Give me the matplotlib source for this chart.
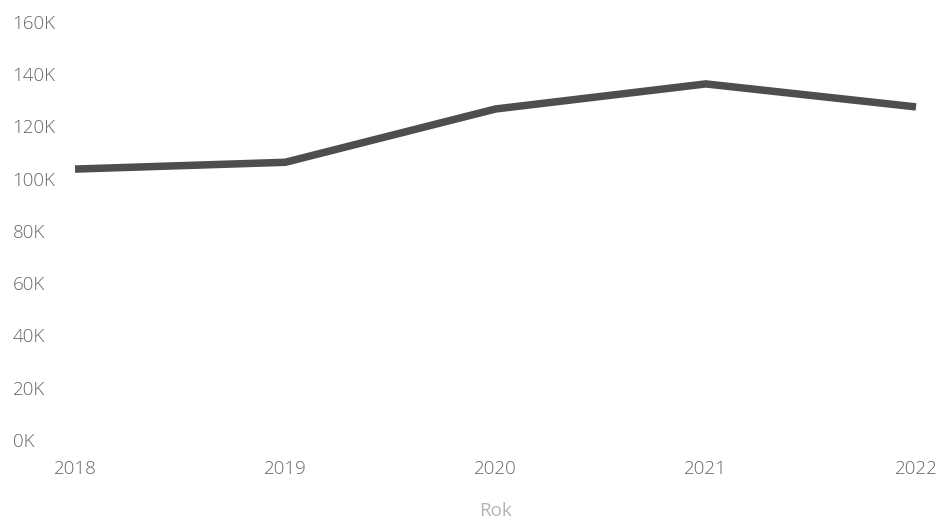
import matplotlib.pyplot as plt

years = [2018, 2019, 2020, 2021, 2022]
values = [103700, 106300, 126700, 136300, 127500]
ytick_vals = [0, 20000, 40000, 60000, 80000, 100000, 120000, 140000, 160000]
ytick_labels = ['0K', '20K', '40K', '60K', '80K', '100K', '120K', '140K', '160K']

plt.rcParams['font.family'] = ['Open Sans', 'DejaVu Sans']
plt.rcParams['font.weight'] = 'light'

fig = plt.figure(figsize=(9.41, 5.2), dpi=100)
ax = fig.add_axes([75 / 941, 80 / 520, (916 - 75) / 941, (440 - 22) / 520])

ax.plot(years, values, color='#4e4e4e', linewidth=5.4, solid_capstyle='butt',
        solid_joinstyle='miter', clip_on=False)

ax.set_xlim(2018, 2022)
ax.set_ylim(0, 160000)
ax.set_xticks(years)
ax.set_xticklabels([str(y) for y in years])
ax.set_yticks(ytick_vals)
ax.set_yticklabels(ytick_labels)

for s in ax.spines.values():
    s.set_visible(False)

ax.tick_params(axis='both', length=0, labelsize=13.5, labelcolor='#666666')
ax.tick_params(axis='y', pad=45)
ax.tick_params(axis='x', pad=14.5)
for lab in ax.get_yticklabels():
    lab.set_ha('left')

ax.set_xlabel('Rok', color='#b4b4b4', fontsize=13.5, labelpad=17)

fig.savefig('out.png', dpi=100)
